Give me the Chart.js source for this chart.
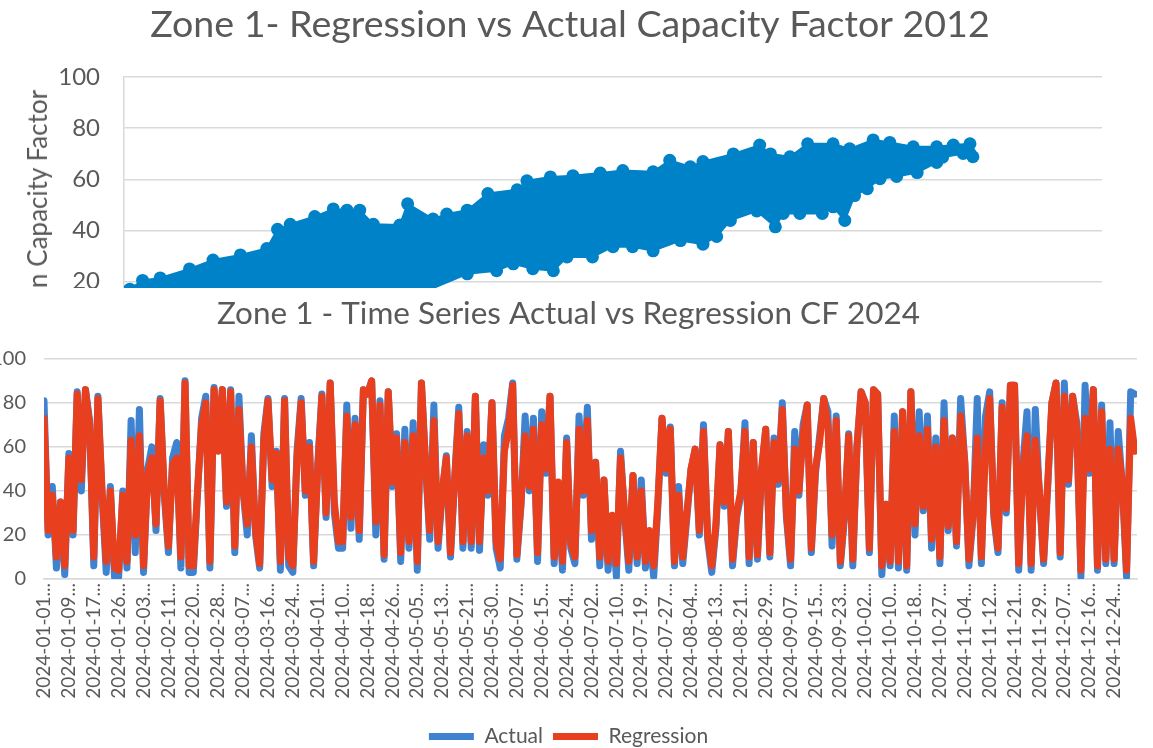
<!DOCTYPE html>
<html>
<head>
<meta charset="utf-8">
<script src="https://cdn.jsdelivr.net/npm/chart.js@4.4.1/dist/chart.umd.min.js"></script>
<style>
  html, body { margin: 0; padding: 0; background: #fff; }
  body { width: 1153px; height: 748px; position: relative; overflow: hidden; font-family: Lato, sans-serif; }
  #top { position: absolute; left: 0; top: 0; width: 1153px; height: 371px; }
  #bottom { position: absolute; left: 0; top: 288px; width: 1153px; height: 469px; background: #fff; }
  #yTitle {
    position: absolute; left: 21px; top: 90px;
    writing-mode: vertical-rl; transform: rotate(180deg);
    font: 26px Lato, sans-serif; color: #595959; line-height: 32px; white-space: nowrap;
  }
</style>
</head>
<body>
<div id="top">
  <canvas id="scatterChart" width="1153" height="371"></canvas>
  <div id="yTitle">Regression Capacity Factor</div>
</div>
<div id="bottom">
  <canvas id="tsChart" width="1153" height="469"></canvas>
</div>
<script>
// ---- scatter (2012): outer edge of the point cloud, [actual, regression]
const cloudEdgeTop = [
  [0.6, 17], [1.9, 20.4], [3.7, 21.4], [6.7, 24.9], [9.1, 28.4], [11.9, 30.4],
  [14.6, 32.9], [15.7, 40.4], [17.0, 42.4], [19.5, 45.4], [21.4, 48.4], [22.8, 47.9],
  [24.1, 47.9], [25.5, 42.4], [28.2, 42.1], [29.0, 50.4], [31.6, 44.4], [33.0, 46.4],
  [35.1, 47.9], [37.2, 54.4], [40.2, 55.9], [41.2, 59.4], [43.6, 60.9], [45.9, 61.4],
  [48.7, 62.4], [51.0, 63.4], [54.1, 62.9], [55.8, 67.4], [57.9, 64.9], [59.2, 66.9],
  [62.3, 69.9], [65.0, 73.4], [66.1, 69.9], [68.1, 68.8], [69.9, 73.9], [72.5, 73.9],
  [74.2, 71.9], [76.6, 75.4], [78.3, 74.4], [80.7, 72.7], [83.1, 72.7], [84.8, 73.4],
  [86.5, 73.9], [86.8, 68.8]
];
const cloudEdgeBottom = [
  [86.5, 70.1], [85.8, 70.1], [83.7, 68.6], [83.1, 66.6], [81.1, 62.6], [79.0, 61.1],
  [77.3, 60.2], [76.0, 56.3], [74.7, 53.6], [73.7, 43.9], [72.5, 49.2], [71.4, 46.6],
  [69.1, 46.6], [67.4, 46.6], [66.6, 41.4], [64.7, 47.6], [62.0, 43.9], [60.6, 37.6],
  [59.2, 34.6], [56.9, 36.0], [54.1, 32.0], [52.0, 33.6], [50.0, 33.6], [47.9, 29.6],
  [45.3, 29.6], [43.9, 24.2], [41.8, 25.0], [39.8, 26.9], [38.1, 24.2], [35.1, 23.0],
  [28.2, 12], [18, 8], [7.8, 5], [0.6, 3]
];
const scatterTicks = [0, 20, 40, 60, 80, 100];

// ---- time series (2024): one value every 200/6 hours
const HOURS_PER_SAMPLE = 200 / 6;
const actualCF = [
  81, 20, 42, 5, 35, 2,   57, 20, 85, 40, 86, 72,   6, 83, 38, 3, 42, 1,
  1, 40, 5, 72, 12, 77,   3, 50, 60, 22, 82, 38,   12, 55, 62, 5, 90, 3,
  3, 38, 73, 83, 5, 87,   60, 86, 33, 86, 12, 83,  40, 20, 65, 20, 5, 66,
  82, 42, 58, 4, 82, 6,   3, 58, 82, 38, 62, 6,    52, 84, 28, 89, 30, 14,
  14, 79, 23, 73, 18, 86, 84, 90, 20, 81, 9, 85,   42, 66, 8, 68, 14, 71,
  4, 89, 52, 18, 79, 14,  38, 56, 10, 45, 78, 14,  67, 14, 83, 13, 61, 38,
  80, 14, 5, 65, 73, 89,  9, 33, 74, 40, 73, 8,    76, 48, 83, 7, 42, 4,
  64, 14, 7, 74, 38, 78,  18, 53, 6, 45, 4, 27,    1, 58, 28, 4, 47, 7,
  45, 5, 20, 1, 33, 73,   48, 69, 6, 42, 7, 28,    50, 59, 20, 70, 18, 3,
  23, 61, 33, 67, 6, 28,  38, 71, 7, 62, 9, 48,    68, 10, 64, 43, 80, 28,
  6, 67, 38, 70, 79, 12,  48, 65, 82, 76, 15, 74,  6, 28, 66, 6, 60, 85,
  80, 12, 86, 84, 2, 34,  6, 74, 5, 76, 4, 85,     20, 76, 31, 74, 14, 64,
  7, 80, 22, 64, 15, 82,  53, 6, 28, 82, 7, 74,    85, 28, 12, 80, 30, 88,
  88, 4, 52, 76, 4, 77,   38, 7, 42, 80, 89, 10,   89, 43, 83, 71, 1, 88,
  48, 86, 4, 79, 7, 71,   7, 67, 42, 1, 85, 84
];
const regressionCF = [
  73, 22, 38, 10, 35, 6,  55, 22, 84, 45, 86, 70,  10, 82, 40, 8, 40, 5,
  4, 38, 8, 63, 20, 65,   6, 48, 55, 25, 81, 40,   15, 52, 55, 10, 89, 6,
  6, 40, 70, 80, 8, 86,   58, 86, 35, 85, 15, 77,  40, 25, 60, 22, 7, 63,
  81, 45, 57, 8, 81, 10,  6, 55, 80, 40, 60, 8,    50, 83, 30, 89, 35, 17,
  17, 74, 28, 70, 22, 86, 84, 90, 26, 79, 11, 85,  44, 64, 12, 62, 17, 65,
  8, 89, 52, 22, 72, 17,  40, 55, 12, 45, 75, 17,  65, 17, 83, 17, 55, 40,
  80, 17, 9, 58, 68, 88,  11, 35, 65, 42, 68, 12,  70, 50, 83, 10, 44, 8,
  62, 16, 10, 68, 40, 72, 22, 53, 10, 45, 8, 29,   7, 55, 30, 8, 47, 10,
  40, 8, 22, 6, 35, 73,   50, 68, 8, 38, 10, 30,   50, 59, 22, 67, 20, 6,
  25, 61, 35, 67, 9, 30,  40, 67, 10, 62, 11, 50,  68, 12, 62, 45, 77, 30,
  9, 59, 40, 65, 79, 14,  50, 62, 82, 70, 20, 72,  8, 30, 65, 9, 60, 85,
  80, 14, 86, 84, 6, 34,  8, 67, 8, 76, 6, 85,     25, 65, 33, 68, 18, 60,
  10, 72, 24, 64, 17, 74, 53, 9, 30, 64, 10, 60,   82, 30, 14, 78, 32, 88,
  88, 7, 50, 65, 7, 63,   40, 9, 44, 80, 89, 12,   83, 45, 83, 68, 4, 73,
  50, 86, 6, 76, 9, 59,   9, 59, 44, 4, 73, 58
];
const tickLabels = [
  "2024-01-01", "2024-01-09", "2024-01-17", "2024-01-26", "2024-02-03", "2024-02-11",
  "2024-02-20", "2024-02-28", "2024-03-07", "2024-03-16", "2024-03-24", "2024-04-01",
  "2024-04-10", "2024-04-18", "2024-04-26", "2024-05-05", "2024-05-13", "2024-05-21",
  "2024-05-30", "2024-06-07", "2024-06-15", "2024-06-24", "2024-07-02", "2024-07-10",
  "2024-07-19", "2024-07-27", "2024-08-04", "2024-08-13", "2024-08-21", "2024-08-29",
  "2024-09-07", "2024-09-15", "2024-09-23", "2024-10-02", "2024-10-10", "2024-10-18",
  "2024-10-27", "2024-11-04", "2024-11-12", "2024-11-21", "2024-11-29", "2024-12-07",
  "2024-12-16", "2024-12-24"
];
const HOURS_PER_LABEL = 200;

const textColor = "#595959";
const gridColor = "#d9d9d9";

// cloud outline: top edge left->right, bottom edge right->left
const cloudPoints = cloudEdgeTop.concat(cloudEdgeBottom).map(p => ({ x: p[0], y: p[1] }));

new Chart(document.getElementById("scatterChart"), {
  type: "scatter",
  data: {
    datasets: [{
      data: cloudPoints,
      showLine: true,
      fill: "shape",
      backgroundColor: "#0082c8",
      borderColor: "#0082c8",
      borderWidth: 2,
      pointRadius: 6.5,
      pointBackgroundColor: "#0082c8",
      pointBorderWidth: 0
    }]
  },
  options: {
    responsive: false,
    animation: false,
    // left padding keeps the title centred where the original sits
    layout: { padding: { top: 0, right: 51, bottom: 0, left: 38 } },
    plugins: {
      legend: { display: false },
      tooltip: { enabled: false },
      title: {
        display: true,
        text: "Zone 1- Regression vs Actual Capacity Factor 2012",
        color: textColor,
        font: { family: "Lato", size: 37.6, weight: "normal" },
        padding: { top: 2, bottom: 29.9 }
      }
    },
    scales: {
      x: { type: "linear", min: 0, max: 100, display: false },
      y: {
        min: 0, max: 100,
        afterBuildTicks: s => { s.ticks = scatterTicks.map(v => ({ value: v })); },
        afterFit: s => { s.width = 86; },
        ticks: { padding: 24, color: textColor, font: { family: "Lato", size: 24 } },
        grid: { color: gridColor, lineWidth: 1.5, drawTicks: false },
        border: { color: gridColor, width: 1.5 }
      }
    }
  }
});

const toPoints = arr => arr.map((v, i) => ({ x: i * HOURS_PER_SAMPLE, y: v }));

new Chart(document.getElementById("tsChart"), {
  type: "line",
  data: {
    datasets: [
      {
        label: "Actual",
        data: toPoints(actualCF),
        borderColor: "#3f83d0",
        backgroundColor: "#3f83d0",
        borderWidth: 7,
        borderJoinStyle: "round",
        borderCapStyle: "round",
        pointRadius: 0,
        order: 2
      },
      {
        label: "Regression",
        data: toPoints(regressionCF),
        borderColor: "#e8401f",
        backgroundColor: "#e8401f",
        borderWidth: 7,
        borderJoinStyle: "round",
        borderCapStyle: "round",
        pointRadius: 0,
        order: 1
      }
    ]
  },
  options: {
    responsive: false,
    animation: false,
    layout: { padding: { top: 0, right: 16, bottom: 0, left: 0 } },
    plugins: {
      tooltip: { enabled: false },
      title: {
        display: true,
        text: "Zone 1 - Time Series Actual vs Regression CF 2024",
        color: textColor,
        font: { family: "Lato", size: 31.5, weight: "normal" },
        padding: { top: 7, bottom: 26 }
      },
      legend: {
        position: "bottom",
        labels: {
          usePointStyle: true,
          pointStyle: "line",
          pointStyleWidth: 45,
          color: textColor,
          font: { family: "Lato", size: 21 },
          padding: 10,
          sort: (a, b) => a.datasetIndex - b.datasetIndex
        }
      }
    },
    scales: {
      x: {
        type: "linear",
        min: 0,
        max: 8784,
        afterBuildTicks: s => { s.ticks = tickLabels.map((_, i) => ({ value: i * HOURS_PER_LABEL })); },
        afterFit: s => { s.height = 137; },
        ticks: {
          autoSkip: false,
          minRotation: 90,
          maxRotation: 90,
          padding: 4,
          color: textColor,
          font: { family: "Lato", size: 19 },
          callback: (v, i) => tickLabels[i] + "..."
        },
        grid: { display: false, drawTicks: false },
        border: { color: gridColor, width: 1.5 }
      },
      y: {
        min: 0,
        max: 100,
        afterFit: s => { s.width = 44; },
        ticks: { stepSize: 10, padding: 18, color: textColor, font: { family: "Lato", size: 20 } },
        grid: { color: gridColor, lineWidth: 1.5, drawTicks: false },
        border: { display: false }
      }
    }
  }
});
</script>
</body>
</html>
